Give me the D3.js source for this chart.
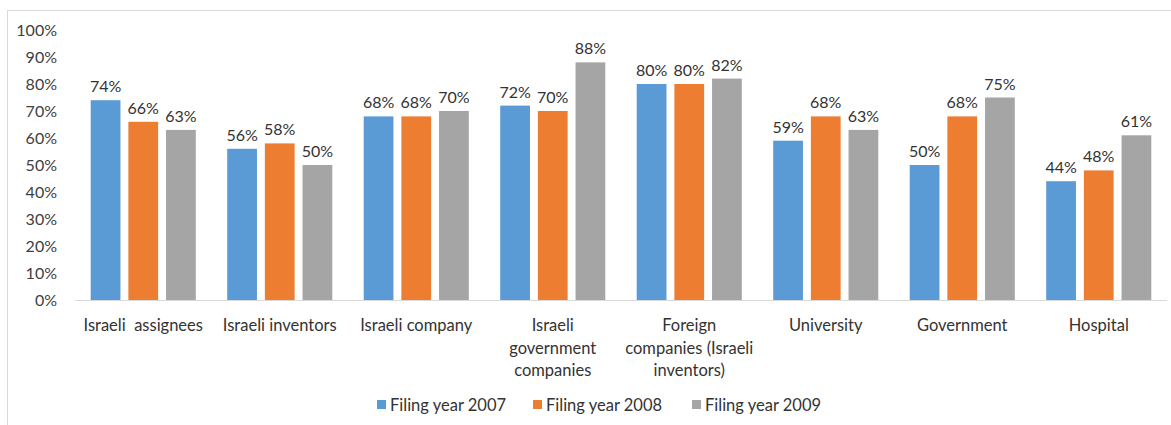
<!DOCTYPE html>
<html>
<head>
<meta charset="utf-8">
<script src="https://cdn.jsdelivr.net/npm/d3@7"></script>
<style>
  body { margin: 0; background: #fff; }
  svg { font-family: Lato, "Open Sans", sans-serif; }
</style>
</head>
<body>
<div id="chart"></div>
<script>
const categories = [
  ["Israeli  assignees"],
  ["Israeli inventors"],
  ["Israeli company"],
  ["Israeli", "government", "companies"],
  ["Foreign", "companies (Israeli", "inventors)"],
  ["University"],
  ["Government"],
  ["Hospital"]
];
const seriesNames = ["Filing year 2007", "Filing year 2008", "Filing year 2009"];
const year2007 = [74, 56, 68, 72, 80, 59, 50, 44];
const year2008 = [66, 58, 68, 70, 80, 68, 68, 48];
const year2009 = [63, 50, 70, 88, 82, 63, 75, 61];
const colors = ["#5B9BD5", "#ED7D31", "#A5A5A5"];
const yTicks = [0, 10, 20, 30, 40, 50, 60, 70, 80, 90, 100];

const WIDTH = 1171, HEIGHT = 425;
const margins = { top: 30, bottom: 125, left: 75, right: 4 };

const svg = d3.select("#chart").append("svg")
  .attr("width", WIDTH).attr("height", HEIGHT);

// chart border (right/bottom fall outside the crop)
svg.append("rect")
  .attr("x", 7.5).attr("y", 10.5)
  .attr("width", WIDTH + 10).attr("height", HEIGHT + 10)
  .attr("fill", "none").attr("stroke", "#d9d9d9");

const x = d3.scaleBand()
  .domain(d3.range(categories.length))
  .range([margins.left, WIDTH - margins.right])
  .paddingInner(0.23).paddingOuter(0.115);

const xInner = d3.scaleBand()
  .domain(d3.range(seriesNames.length))
  .range([0, x.bandwidth()])
  .paddingInner(0.21);

const y = d3.scaleLinear().domain([0, 100]).range([HEIGHT - margins.bottom, margins.top]);

// y ticks
svg.append("g")
  .selectAll("text")
  .data(yTicks)
  .join("text")
  .attr("x", 57)
  .attr("y", (d) => y(d))
  .attr("dy", "0.35em")
  .attr("text-anchor", "end")
  .attr("font-size", 16)
  .attr("fill", "#404040")
  .text((d) => d + "%");

// baseline
svg.append("line")
  .attr("x1", margins.left).attr("x2", WIDTH - margins.right)
  .attr("y1", y(0) + 0.5).attr("y2", y(0) + 0.5)
  .attr("stroke", "#d9d9d9");

const series = [year2007, year2008, year2009];
const groups = svg.append("g")
  .selectAll("g")
  .data(categories.map((c, i) => ({ i, vals: series.map((s) => s[i]) })))
  .join("g")
  .attr("transform", (d) => `translate(${x(d.i)},0)`);

groups.selectAll("rect")
  .data((d) => d.vals)
  .join("rect")
  .attr("x", (d, j) => xInner(j))
  .attr("width", xInner.bandwidth())
  .attr("y", (d) => y(d))
  .attr("height", (d) => y(0) - y(d))
  .attr("fill", (d, j) => colors[j]);

groups.selectAll("text.lbl")
  .data((d) => d.vals)
  .join("text")
  .attr("class", "lbl")
  .attr("x", (d, j) => xInner(j) + xInner.bandwidth() / 2)
  .attr("y", (d) => y(d) - 8)
  .attr("text-anchor", "middle")
  .attr("font-size", 16)
  .attr("fill", "#333")
  .text((d) => d + "%");

// category labels
const catG = svg.append("g")
  .selectAll("text")
  .data(categories)
  .join("text")
  .attr("x", (d, i) => x(i) + x.bandwidth() / 2)
  .attr("y", 331)
  .attr("text-anchor", "middle")
  .attr("font-size", 16.5)
  .attr("fill", "#333")
  .style("white-space", "pre");

catG.selectAll("tspan")
  .data((d) => d)
  .join("tspan")
  .attr("x", function () { return this.parentNode.getAttribute("x"); })
  .attr("dy", (d, k) => (k === 0 ? 0 : 22.5))
  .text((d) => d);

// legend
const legendX = [377, 533, 692];
const legend = svg.append("g")
  .selectAll("g")
  .data(seriesNames)
  .join("g")
  .attr("transform", (d, i) => `translate(${legendX[i]},405)`);

legend.append("rect")
  .attr("x", 0).attr("y", -5)
  .attr("width", 9).attr("height", 9)
  .attr("fill", (d, i) => colors[i]);

legend.append("text")
  .attr("x", 13)
  .attr("dy", "0.35em")
  .attr("font-size", 16.5)
  .attr("fill", "#333")
  .text((d) => d);
</script>
</body>
</html>
